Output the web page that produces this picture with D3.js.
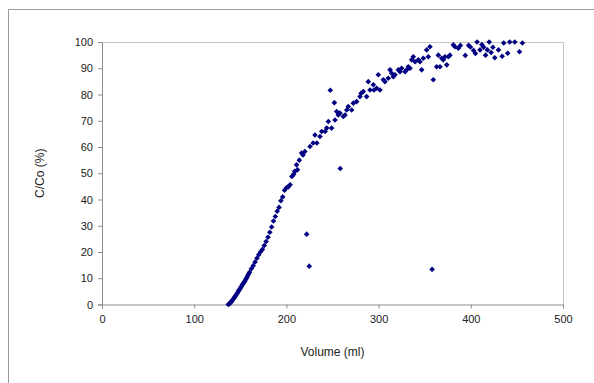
<!DOCTYPE html>
<html>
<head>
<meta charset="utf-8">
<script src="https://cdn.jsdelivr.net/npm/d3@7"></script>
<style>
  body { margin: 0; background: #fff; }
  text { font-family: "Liberation Sans", Arial, sans-serif; }
</style>
</head>
<body>
<div id="chart"></div>
<script>
// breakthrough data
var volume = [137,138,139,140,141,142,143,144,145,146,147,148,149,150,151,152,153,154,155,156,
  157,158,159,160,162,164,166,168,170,172,174,176,178,180,182,184,186,188,190,192,
  194,196,198,200,202,204,206,208,209,211,212,214,216.5,218,220,222,224.8,225.6,229,231,
  233,236.4,238.3,242,243.7,245.5,247.6,249,252,252.7,254.5,256.3,258.1,258.4,261.7,263.6,265.4,267.1,270.8,272.6,
  276.2,279.8,281,283.4,287,288.8,290.7,294.3,295,297.9,299.7,301.5,305.1,306.9,310.5,312.4,314.2,316,317.8,321.4,
  323.2,325,328.6,330.5,332.2,334.1,335.9,337.6,339.5,343.1,344.9,346.7,348.5,352.1,353.9,355.7,358,359.3,363,364.8,
  366.6,368.4,370.2,372,373.9,375.6,377.4,381,382.9,386.5,388.7,394,397.7,399.6,403,405,406.8,410,412,414,
  416,418,420,422,424,426,430,434,435.7,440,442.2,447.7,452.8,456];
var conc = [0,0.3,0.6,1,1.4,1.9,2.4,2.9,3.4,3.9,4.5,5.1,5.6,6.2,6.8,7.4,7.9,8.4,9,9.6,
  10.2,11,11.6,12.3,13.6,14.8,16.2,17.6,19,20.1,21,22.5,24,25.6,27.5,29.5,31.8,33.5,35.5,37,
  39.5,41,43.5,44.5,44.8,45.6,48.8,49.6,50.7,53.2,51.3,55,57.7,57,58.3,26.8,14.6,60.2,61.5,64.6,
  61.5,64,65.9,65.9,67.2,69.7,81.6,67.2,76.9,70.3,73.5,72.2,72.9,51.8,71.6,72.2,74.1,75.4,74.1,76.7,
  77.3,79.2,80.5,81.1,79.2,84.9,81.7,83.7,81.7,82.4,87.5,81.7,85.6,84.9,86.2,89.4,88.1,86.8,87.5,89.4,
  88.7,90,88.7,89.4,90.6,90,93.2,94.4,92.5,93.2,92.5,89.4,93.8,97,94.4,98.2,13.4,85.6,90.6,95,
  90.6,93.8,93.2,94.4,91.3,94.4,95,98.9,98.2,97.6,98.7,94.9,98.7,98.1,96.8,95.6,100,97,99,98,
  95,97,100,96,98,94,97,94.6,99.6,95.7,100,100,96.3,99.6];
var xTicks = [0,100,200,300,400,500];
var yTicks = [0,10,20,30,40,50,60,70,80,90,100];

var width = 594;
var height = 383;
var plotL = 102, plotR = 563, plotT = 42, plotB = 304.5;

var svg = d3.select("#chart")
        .append("svg")
            .attr("width", width)
            .attr("height", height);

svg.append("rect").attr("width", width).attr("height", height).attr("fill", "#fff");

// outer chart frame (runs off the picture on the right and bottom)
svg.append("path")
    .attr("d", "M8.5," + height + " V9.5 H" + width)
    .attr("fill", "none").attr("stroke", "#9a9a9a").attr("stroke-width", 1);

var x = d3.scaleLinear().domain([0, 500]).range([plotL, plotR]);
var y = d3.scaleLinear().domain([0, 100]).range([plotB, plotT]);

// plot area border, top and right
svg.append("path")
    .attr("d", `M${plotL},${plotT + 0.5} H${plotR + 0.5} V${plotB}`)
    .attr("fill", "none").attr("stroke", "#c4c4c4");

var xAxis = svg.append("g")
    .attr("transform", `translate(0, ${plotB})`)
    .call(d3.axisBottom(x).tickValues(xTicks).tickSize(4).tickPadding(7));

var yAxis = svg.append("g")
    .attr("transform", `translate(${plotL}, 0)`)
    .call(d3.axisLeft(y).tickValues(yTicks).tickSize(4).tickPadding(5));

[xAxis, yAxis].forEach(function(a) {
  a.select(".domain").attr("stroke", "#8c8c8c");
  a.selectAll(".tick line").attr("stroke", "#8c8c8c");
  a.selectAll(".tick text").attr("fill", "#222").style("font-size", "11px")
    .style("font-family", '"Liberation Sans", Arial, sans-serif');
});

var diamond = "M0,-2.8L2.8,0L0,2.8L-2.8,0Z";

svg.append("g").selectAll("path")
    .data(volume)
    .enter().append("path")
    .attr("d", diamond)
    .attr("fill", "#000080")
    .attr("transform", (d, i) => `translate(${x(d)},${y(conc[i])})`);

svg.append("text")
    .attr("x", (plotL + plotR) / 2).attr("y", 356)
    .attr("text-anchor", "middle")
    .attr("fill", "#222").style("font-size", "12px")
    .text("Volume (ml)");

svg.append("text")
    .attr("transform", `translate(44, ${(plotT + plotB) / 2}) rotate(-90)`)
    .attr("text-anchor", "middle")
    .attr("fill", "#222").style("font-size", "12px")
    .text("C/Co (%)");
</script>
</body>
</html>
